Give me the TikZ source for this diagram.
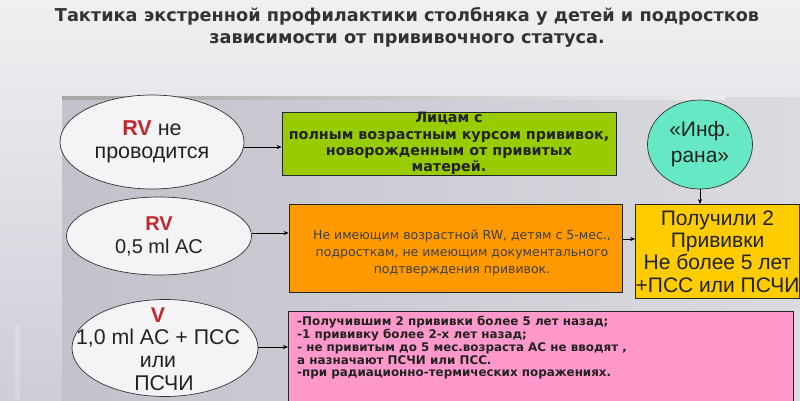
\documentclass[tikz,border=0pt]{standalone}
\usepackage{fontspec}
\setmainfont{Liberation Sans}
\newfontfamily\dvs{DejaVu Sans}
\usetikzlibrary{shapes.geometric,arrows.meta}
\definecolor{bgtop}{HTML}{F0F0F2}
\definecolor{bgbot}{HTML}{CDCDD8}
\definecolor{panelL}{HTML}{C2C2CC}
\definecolor{panelR}{HTML}{DADAE0}
\definecolor{titlec}{HTML}{333333}
\definecolor{greenc}{HTML}{99CC00}
\definecolor{aquac}{HTML}{66E8C4}
\definecolor{yellowc}{HTML}{FFCC00}
\definecolor{orangec}{HTML}{FF9900}
\definecolor{pinkc}{HTML}{FF99CC}
\definecolor{ellc}{HTML}{F4F4F6}
\definecolor{redc}{HTML}{C0282D}
\definecolor{txtc}{HTML}{222222}
\tikzset{
  ellnode/.style={ellipse, draw=black!80, line width=0.7pt, fill=ellc, inner sep=0pt, align=center, text=txtc},
  boxnode/.style={rectangle, draw=black!85, line width=0.8pt, inner sep=0pt, align=center, text=txtc},
  arr/.style={-{Stealth[length=5pt,width=4pt]}, line width=0.6pt, black},
  titlefont/.style={anchor=base, font=\dvs\fontsize{17.7}{22}\selectfont\bfseries, text=titlec}
}
\begin{document}
\begin{tikzpicture}[x=1pt,y=-1pt]
\useasboundingbox (0,0) rectangle (800,400);
\shade[top color=bgtop, bottom color=bgbot] (0,0) rectangle (800,400);
\shade[left color=panelL, right color=panelR] (62,97) rectangle (800,400);
\shade[left color=black!35, right color=black!8] (62,96) rectangle (725,99);
\fill[white, opacity=0.2] (15,325) rectangle (20,400);

\node[titlefont] (t1) at (407,21) {Тактика экстренной профилактики столбняка у детей и подростков};
\node[titlefont] (t2) at (407,43) {зависимости от прививочного статуса.};

\node[ellnode, minimum width=184pt, minimum height=94pt, font=\fontsize{21.5}{23}\selectfont] (e1) at (152,142)
  {{\bfseries\color{redc}RV} не\\проводится};
\node[ellnode, minimum width=185pt, minimum height=78pt, font=\fontsize{20}{23}\selectfont] (e2) at (159,236)
  {{\bfseries\color{redc}RV}\\0,5 ml AC};
\node[ellnode, minimum width=186pt, minimum height=97pt] (e3) at (165,348) {};
\node[align=center, inner sep=0pt, text=txtc, font=\fontsize{21.3}{22.7}\selectfont] (e3t) at (158,349)
  {{\bfseries\color{redc}V}\\1,0 ml AC + ПСС\\или\\\hspace*{12pt}ПСЧИ};

\node[boxnode, fill=greenc, minimum width=334pt, minimum height=63pt, font=\dvs\fontsize{14.3}{16.2}\selectfont\bfseries] (g) at (449,143.5)
  {Лицам с\\полным возрастным курсом прививок,\\новорожденным от привитых\\матерей.};
\node[ellnode, fill=aquac, minimum width=105pt, minimum height=89pt, font=\fontsize{21}{26}\selectfont] (c) at (700,144.5)
  {«Инф.\\рана»};
\node[boxnode, fill=orangec, minimum width=333pt, minimum height=88pt, text=black!75] (o) at (455.5,248) {};
\node[align=center, inner sep=0pt, font=\dvs\fontsize{12.5}{17}\selectfont, text=black!75] (ot) at (462,253)
  {Не имеющим возрастной RW, детям с 5-мес.,\\подросткам, не имеющим документального\\подтверждения прививок.};
\node[boxnode, fill=yellowc, minimum width=151pt, minimum height=94pt, font=\fontsize{21}{22.4}\selectfont] (y) at (717.5,251.5)
  {Получили 2\\Прививки\\Не более 5 лет\\+ПСС или ПСЧИ};
\node[boxnode, fill=pinkc, anchor=north west, minimum width=505pt, minimum height=100pt] (p) at (288,311) {};
\node[anchor=north west, align=left, inner sep=0pt, font=\dvs\fontsize{11.9}{12.8}\selectfont\bfseries, text=txtc] (ptext) at (297,316)
  {-Получившим 2 прививки более 5 лет назад;\\-1 прививку более 2-х лет назад;\\- не привитым до 5 мес.возраста АС не вводят ,\\а назначают ПСЧИ или ПСС.\\-при радиационно-термических поражениях.};

\draw[arr] ([yshift=-5pt]e1.east) -- ([yshift=-5pt]e1.east -| g.west);
\draw[arr] ([yshift=3pt]e2.east) -- ([yshift=3pt]e2.east -| o.west);
\draw[arr] ([yshift=1pt]e3.east) -- ([yshift=1pt]e3.east -| p.west);
\draw[arr] (c.south) -- (c.south |- y.north);
\draw[arr] ([yshift=9pt]o.east) -- ([yshift=9pt]o.east -| y.west);
\end{tikzpicture}
\end{document}
